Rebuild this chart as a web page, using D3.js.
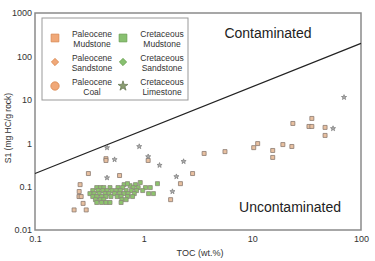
<!DOCTYPE html>
<html>
<head>
<meta charset="utf-8">
<script src="https://cdn.jsdelivr.net/npm/d3@7"></script>
<style>
  body { margin: 0; background: #fff; }
  svg { font-family: "Liberation Sans", Arial, sans-serif; }
</style>
</head>
<body>
<svg id="chart" width="375" height="261"></svg>
<script>
// TOC (wt.%) vs S1 (mg HC/g rock)
const paleoMudTOC = [3.6, 5.6, 10.3, 11.2, 15.4, 15.4, 19.1, 23.1, 23.6, 33.2, 35.3, 35.3, 46.7, 46.7,
  0.45, 0.45, 1.1, 0.31, 0.6, 0.26, 0.255, 0.254, 0.266, 0.277, 0.229, 0.296, 2.18, 1.77, 2.82];
const paleoMudS1 = [0.58, 0.64, 0.79, 0.98, 0.68, 0.47, 0.93, 0.84, 2.85, 2.43, 2.43, 3.72, 2.31, 1.51,
  0.44, 0.40, 0.40, 0.20, 0.18, 0.111, 0.077, 0.059, 0.059, 0.041, 0.029, 0.029, 0.117, 0.050, 0.20];

const cretMudTOC = [0.93, 1.34, 0.66, 0.75, 0.84, 0.71,
  0.37, 0.40, 0.43, 0.49, 0.58, 0.64, 0.80, 0.89, 1.04, 1.15,
  0.34, 0.38, 0.42, 0.46, 0.51, 0.56, 0.61, 0.69, 0.77, 0.86, 0.98,
  0.32, 0.35, 0.39, 0.44, 0.48, 0.54, 0.60, 0.66, 0.72, 0.82, 1.11, 1.23,
  0.34, 0.37, 0.41, 0.45, 0.50, 0.57, 0.62, 0.71, 0.79,
  0.36, 0.40, 0.43, 0.63, 0.69,
  0.37, 0.41, 0.45, 0.49, 0.62];
const cretMudS1 = [0.124, 0.117, 0.111, 0.105, 0.111, 0.117,
  0.095, 0.095, 0.095, 0.095, 0.095, 0.095, 0.095, 0.095, 0.095, 0.095,
  0.081, 0.081, 0.081, 0.081, 0.081, 0.081, 0.081, 0.081, 0.081, 0.081, 0.081,
  0.069, 0.069, 0.069, 0.069, 0.069, 0.069, 0.069, 0.069, 0.069, 0.069, 0.069, 0.069,
  0.059, 0.059, 0.059, 0.059, 0.059, 0.059, 0.059, 0.059, 0.059,
  0.050, 0.050, 0.050, 0.050, 0.050,
  0.043, 0.043, 0.043, 0.043, 0.043];

const cretLimeTOC = [0.46, 0.54, 0.91, 1.10, 1.40, 2.33, 0.46, 2.00, 1.84, 55.3, 69.8];
const cretLimeS1 = [0.79, 0.42, 0.84, 0.49, 0.31, 0.38, 0.16, 0.17, 0.077, 2.18, 11.4];

// boundary line between contaminated and uncontaminated
const lineTOC = [0.1, 100];
const lineS1 = [0.2, 200];

const xTicks = [0.1, 1, 10, 100];
const yTicks = [0.01, 0.1, 1, 10, 100, 1000];

const legendItems = [
  { name: ["Paleocene", "Mudstone"], shape: d3.symbolSquare, size: 60, fill: "#f0a878", stroke: "#d88850", col: 0, row: 0 },
  { name: ["Paleocene", "Sandstone"], shape: d3.symbolDiamond2, size: 34, fill: "#f0a878", stroke: "#d88850", col: 0, row: 1 },
  { name: ["Paleocene", "Coal"], shape: d3.symbolCircle, size: 55, fill: "#f0a878", stroke: "#d88850", col: 0, row: 2 },
  { name: ["Cretaceous", "Mudstone"], shape: d3.symbolSquare, size: 60, fill: "#88c070", stroke: "#6aa050", col: 1, row: 0 },
  { name: ["Cretaceous", "Sandstone"], shape: d3.symbolDiamond2, size: 34, fill: "#88c070", stroke: "#6aa050", col: 1, row: 1 },
  { name: ["Cretaceous", "Limestone"], shape: d3.symbolStar, size: 30, fill: "#8a9c70", stroke: "#6c7c58", col: 1, row: 2 },
];

const svg = d3.select("#chart");
const plotLeft = 35, plotRight = 361, plotTop = 13, plotBottom = 230;

const x = d3.scaleLog().domain([0.1, 100]).range([plotLeft, plotRight]);
const y = d3.scaleLog().domain([0.01, 1000]).range([plotBottom, plotTop]);

// frame
svg.append("rect")
  .attr("x", plotLeft).attr("y", plotTop)
  .attr("width", plotRight - plotLeft).attr("height", plotBottom - plotTop)
  .attr("fill", "none").attr("stroke", "#8a8a8a").attr("stroke-width", 1.5);

// axes (labels only)
const xAxis = svg.append("g")
  .attr("transform", `translate(0,${plotBottom})`)
  .call(d3.axisBottom(x).tickValues(xTicks).tickFormat(d3.format("~g")).tickSize(0).tickPadding(6));
const yAxis = svg.append("g")
  .attr("transform", `translate(${plotLeft},0)`)
  .call(d3.axisLeft(y).tickValues(yTicks).tickFormat(d3.format("~g")).tickSize(0).tickPadding(3));
[xAxis, yAxis].forEach(a => {
  a.select(".domain").remove();
  a.selectAll("text").attr("font-size", 9).attr("fill", "#333")
    .attr("font-family", "'Liberation Sans', Arial, sans-serif");
});

svg.append("text")
  .attr("x", (plotLeft + plotRight) / 2 + 2).attr("y", 256)
  .attr("text-anchor", "middle").attr("font-size", 9).attr("fill", "#333")
  .text("TOC (wt.%)");
svg.append("text")
  .attr("transform", `translate(11,128) rotate(-90)`)
  .attr("text-anchor", "middle").attr("font-size", 8.5).attr("fill", "#333")
  .text("S1 (mg HC/g rock)");

// boundary line
svg.append("line")
  .attr("x1", x(lineTOC[0])).attr("y1", y(lineS1[0]))
  .attr("x2", x(lineTOC[1])).attr("y2", y(lineS1[1]))
  .attr("stroke", "#222").attr("stroke-width", 1.2);

svg.append("text")
  .attr("x", 268).attr("y", 38)
  .attr("text-anchor", "middle").attr("font-size", 14).attr("fill", "#222")
  .text("Contaminated");
svg.append("text")
  .attr("x", 290).attr("y", 212)
  .attr("text-anchor", "middle").attr("font-size", 14).attr("fill", "#222")
  .text("Uncontaminated");

// points
function plot(tocs, s1s, shape, size, fill, stroke) {
  svg.append("g").selectAll("path")
    .data(tocs.map((t, i) => [t, s1s[i]]))
    .join("path")
    .attr("transform", d => `translate(${x(d[0])},${y(d[1])})`)
    .attr("d", d3.symbol().type(shape).size(size))
    .attr("fill", fill).attr("stroke", stroke).attr("stroke-width", 0.8);
}
plot(cretMudTOC, cretMudS1, d3.symbolSquare, 16, "#8cc46c", "#8a8a7a");
plot(paleoMudTOC, paleoMudS1, d3.symbolSquare, 16, "#e8c0a0", "#8a7a70");
plot(cretLimeTOC, cretLimeS1, d3.symbolStar, 8, "#b0b0b0", "#808080");

// legend
const legend = svg.append("g");
legend.append("rect")
  .attr("x", 42).attr("y", 18).attr("width", 146).attr("height", 82)
  .attr("fill", "#fff").attr("stroke", "#999").attr("stroke-width", 1);

const li = legend.selectAll("g.item").data(legendItems).join("g")
  .attr("class", "item")
  .attr("transform", d => `translate(${d.col === 0 ? 55 : 123},${38 + d.row * 24})`);
li.append("path")
  .attr("d", d => d3.symbol().type(d.shape).size(d.size)())
  .attr("fill", d => d.fill).attr("stroke", d => d.stroke).attr("stroke-width", 0.8);
li.each(function (d) {
  const t = d3.select(this).append("text")
    .attr("x", d.col === 0 ? 37 : 39).attr("text-anchor", "middle")
    .attr("font-size", 8.5).attr("fill", "#333");
  d.name.forEach((s, k) => t.append("tspan").attr("x", d.col === 0 ? 37 : 39)
    .attr("y", k === 0 ? -1 : 8.5).text(s));
});
</script>
</body>
</html>
